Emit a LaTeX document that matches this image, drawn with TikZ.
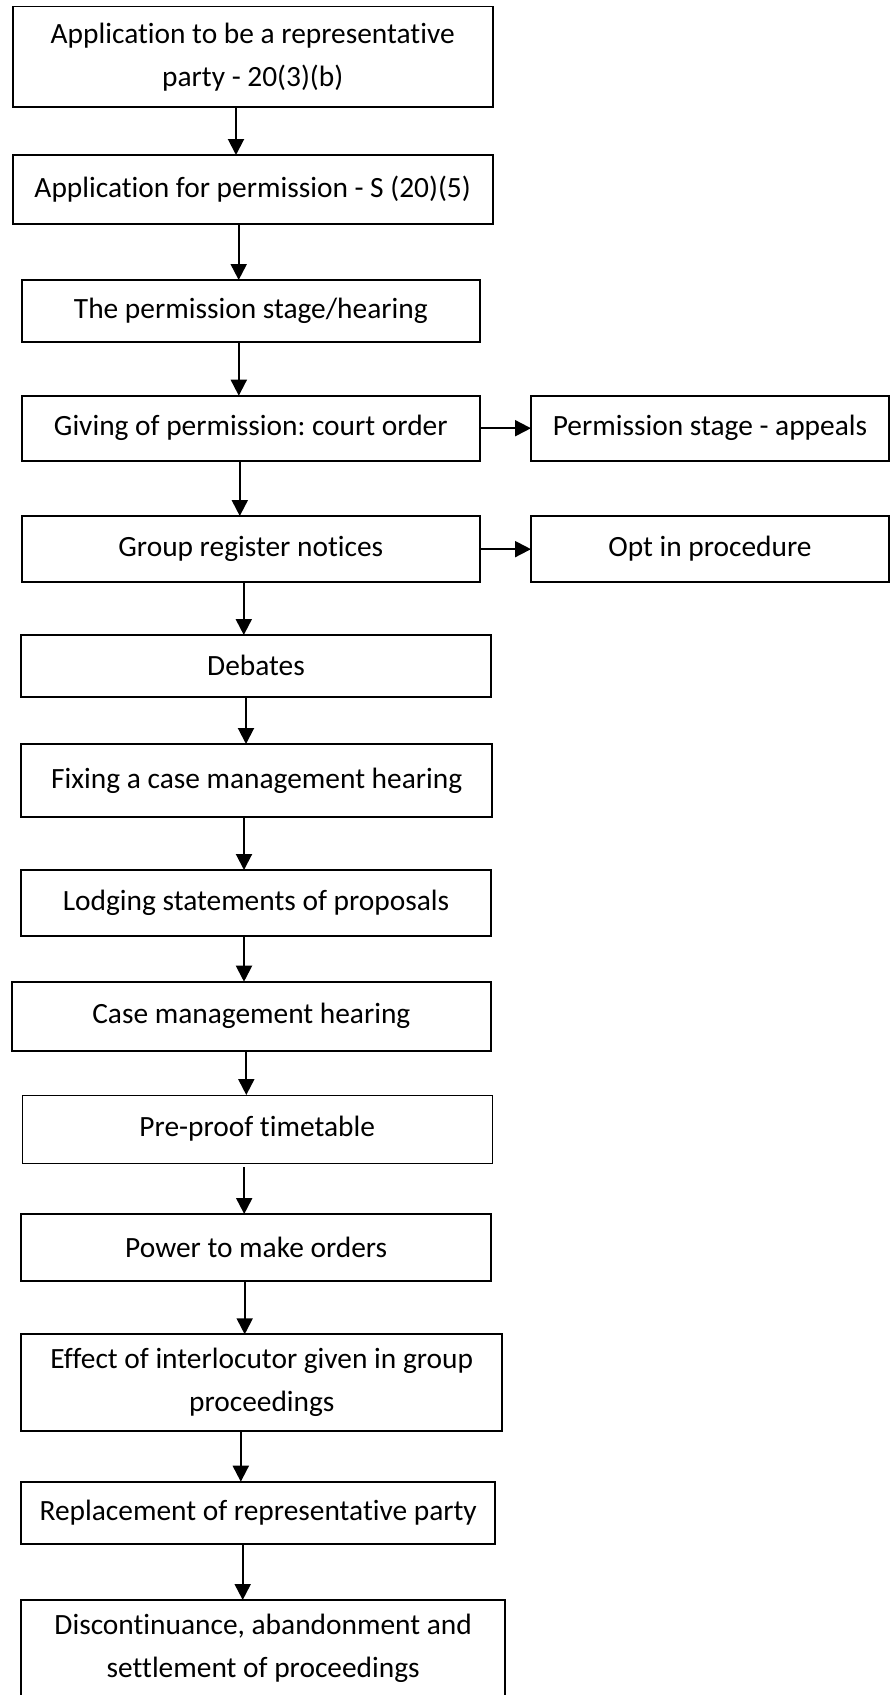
\documentclass[tikz,border=0pt]{standalone}
\usepackage{fontspec}
\setmainfont[Ligatures=NoCommon]{Carlito}
\usetikzlibrary{positioning,arrows.meta}
\frenchspacing

\begin{document}
\begin{tikzpicture}[x=1pt, y=-1pt,
    stage box/.style={rectangle, draw, line width=1.8pt, outer sep=0pt, inner sep=0pt, align=center},
    thin box/.style={stage box, line width=0.9pt},
    flow/.style={-{Triangle[length=16pt,width=16pt]}, line width=2pt}]
    \tikzstyle{every node}=[font=\fontsize{29.4}{43}\selectfont]

    \useasboundingbox (0,0) rectangle (891,1695);

      \node[stage box, minimum width=480pt, minimum height=100.5pt] (app) at (252.7,56.75) {Application to be a representative\\party - 20(3)(b)};
      \node[stage box, minimum width=480pt, minimum height=69pt] (perm) [below=48pt of app] {Application for permission - S (20)(5)};
      \node[stage box, minimum width=458.4pt, minimum height=62pt] (stage) [below=56pt of perm, xshift=-1.9pt] {The permission stage/hearing};
      \node[stage box, minimum width=458.4pt, minimum height=65pt] (give) [below=53.7pt of stage] {Giving of permission: court order};
      \node[stage box, minimum width=358pt, minimum height=65pt] (appeal) [right=51pt of give] {Permission stage - appeals};
      \node[stage box, minimum width=458.4pt, minimum height=66.3pt] (notice) [below=55.3pt of give] {Group register notices};
      \node[stage box, minimum width=358pt, minimum height=66.3pt] (optin) [right=51pt of notice] {Opt in procedure};
      \node[stage box, minimum width=470pt, minimum height=61.7pt] (debate) [below=52.7pt of notice, xshift=5.2pt] {Debates};
      \node[stage box, minimum width=471.3pt, minimum height=72.7pt] (fix) [below=47.3pt of debate, xshift=0.7pt] {Fixing a case management hearing};
      \node[stage box, minimum width=470pt, minimum height=66pt] (lodge) [below=53.3pt of fix, xshift=-0.7pt] {Lodging statements of proposals};
      \node[stage box, minimum width=479.3pt, minimum height=69pt] (cmh) [below=45.7pt of lodge, xshift=-4.7pt] {Case management hearing};
      \node[thin box, minimum width=470.3pt, minimum height=68pt] (preproof) [below=44.3pt of cmh, xshift=5.9pt] {Pre-proof timetable};
      \node[stage box, minimum width=469.7pt, minimum height=66.7pt] (power) [below=51pt of preproof, xshift=-1pt] {Power to make orders};
      \node[stage box, minimum width=481pt, minimum height=96.7pt] (effect) [below=53.6pt of power, xshift=5.6pt] {Effect of interlocutor given in group\\proceedings};
      \node[stage box, minimum width=474.3pt, minimum height=62.6pt] (replace) [below=50.7pt of effect, xshift=-3.6pt] {Replacement of representative party};
      \node[stage box, minimum width=484.3pt, minimum height=97pt] (discont) [below=55.7pt of replace, xshift=5pt] {Discontinuance, abandonment and\\settlement of proceedings};

      \path[every edge/.append style={flow}]
        ([xshift=-16.7pt]app.south) edge ([xshift=-16.7pt]app.south |- perm.north)
        ([xshift=-14pt]perm.south) edge ([xshift=-14pt]perm.south |- stage.north)
        ([xshift=-12pt]stage.south) edge ([xshift=-12pt]stage.south |- give.north)
        (give) edge (appeal)
        ([xshift=-11pt]give.south) edge ([xshift=-11pt]give.south |- notice.north)
        (notice) edge (optin)
        ([xshift=-7pt]notice.south) edge ([xshift=-7pt]notice.south |- debate.north)
        ([xshift=-10pt]debate.south) edge ([xshift=-10pt]debate.south |- fix.north)
        ([xshift=-12.7pt]fix.south) edge ([xshift=-12.7pt]fix.south |- lodge.north)
        ([xshift=-12pt]lodge.south) edge ([xshift=-12pt]lodge.south |- cmh.north)
        ([xshift=-5pt]cmh.south) edge ([xshift=-5pt]cmh.south |- preproof.north)
        ([xshift=-13pt]preproof.south) edge[shorten <=4pt] ([xshift=-13pt]preproof.south |- power.north)
        ([xshift=-11.5pt]power.south) edge ([xshift=-11.5pt]power.south |- effect.north)
        ([xshift=-21pt]effect.south) edge ([xshift=-21pt]effect.south |- replace.north)
        ([xshift=-15.5pt]replace.south) edge ([xshift=-15.5pt]replace.south |- discont.north);

\end{tikzpicture}
\end{document}
